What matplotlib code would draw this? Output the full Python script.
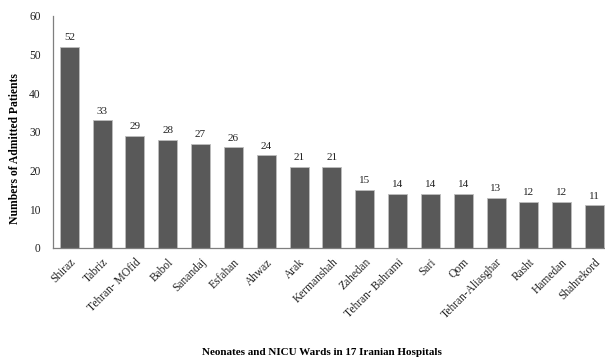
import matplotlib.pyplot as plt
import numpy as np

plt.rcParams['font.family'] = ['Liberation Serif', 'DejaVu Serif']

hospitals = ['Shiraz', 'Tabriz', 'Tehran- MOfid', 'Babol', 'Sanandaj', 'Esfahan',
             'Ahwaz', 'Arak', 'Kermanshah', 'Zahedan', 'Tehran- Bahrami', 'Sari',
             'Qom', 'Tehran-Aliasghar', 'Rasht', 'Hamedan', 'Shahrekord']
patients = [52, 33, 29, 28, 27, 26, 24, 21, 21, 15, 14, 14, 14, 13, 12, 12, 11]

fig = plt.figure(figsize=(6.05, 3.63), dpi=100)
ax = fig.add_axes([0.088, 0.317, 0.912, 0.639])

x = np.arange(len(hospitals))
bars = ax.bar(x, patients, width=0.58, color='#595959', edgecolor='#bdbdbd',
              linewidth=0.6, zorder=2)
for xi, v in zip(x, patients):
    ax.text(xi, v + 1.2, str(v), ha='center', va='bottom', fontsize=8,
            color='#222222')

ax.set_xlim(-0.49, 16.32)
ax.set_ylim(0, 60)
ax.set_yticks(range(0, 61, 10))
ax.set_xticks(x)
ax.set_xticklabels(hospitals, rotation=45, ha='right', rotation_mode='anchor',
                   fontsize=8.3)
ax.tick_params(axis='both', length=0, colors='#222222')
ax.tick_params(axis='x', pad=6)
ax.tick_params(axis='y', pad=9, labelsize=8.3)

for side in ['top', 'right']:
    ax.spines[side].set_visible(False)
for side in ['left', 'bottom']:
    ax.spines[side].set_color('#7f7f7f')
    ax.spines[side].set_linewidth(0.9)

# axis titles placed on the figure so they sit near the edges
fig.text(0.024, 0.591, 'Numbers of Admitted Patients', rotation=90,
         ha='center', va='center', fontsize=8.4, fontweight='bold')
fig.text(0.532, 0.03, 'Neonates and NICU Wards in 17 Iranian Hospitals',
         ha='center', va='center', fontsize=8, fontweight='bold')

fig.savefig('out.png', dpi=100)
